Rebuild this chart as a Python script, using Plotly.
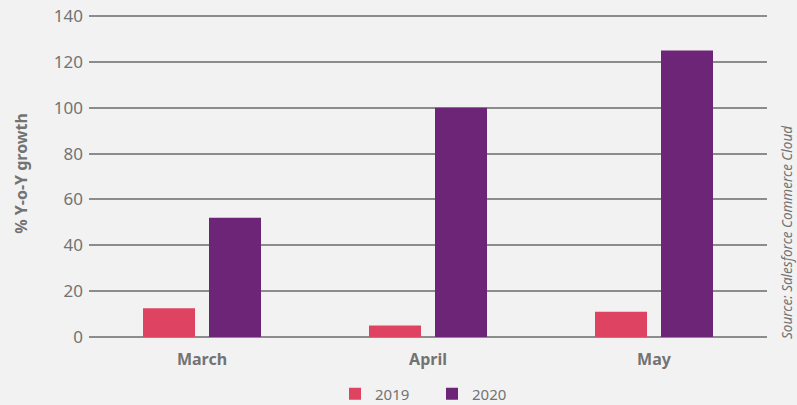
import plotly.graph_objects as go

months = ["March", "April", "May"]
growth_2019 = [12.5, 5, 11]
growth_2020 = [52, 100, 125]
y_ticks = [0, 20, 40, 60, 80, 100, 120, 140]

C2019 = "#de4461"
C2020 = "#6c2577"
TXT = "#737373"
GRID = "#8c8c8c"
FONT = "Noto Sans"

fig = go.Figure()
fig.add_trace(go.Bar(name="2019", x=months, y=growth_2019, marker_color=C2019, marker_line_width=0))
fig.add_trace(go.Bar(name="2020", x=months, y=growth_2020, marker_color=C2020, marker_line_width=0))

fig.update_layout(
    width=797, height=405, autosize=False,
    margin=dict(l=89, r=30, t=15, b=68, pad=0, autoexpand=False),
    paper_bgcolor="#f2f2f2", plot_bgcolor="#f2f2f2",
    barmode="group", bargap=0.416, bargroupgap=0.212,
    font=dict(family=FONT, color=TXT, size=15),
    showlegend=True,
    legend=dict(orientation="h", xref="container", yref="container",
                x=335 / 797, xanchor="left", y=1 - 394 / 405, yanchor="middle",
                font=dict(size=15, color=TXT), entrywidth=52, bgcolor="rgba(0,0,0,0)"),
    xaxis=dict(showgrid=False, showline=False, ticks="", automargin=False,
               tickfont=dict(size=16, color=TXT, family=FONT, weight="bold"),
               ticklabelstandoff=11),
    yaxis=dict(range=[0, 140.5], tickvals=y_ticks, showgrid=True, gridcolor=GRID, gridwidth=1.6,
               zeroline=True, zerolinecolor=GRID, zerolinewidth=1.6, showline=False,
               automargin=False,
               ticks="", tickfont=dict(size=17, color=TXT, family=FONT), ticklabelstandoff=5),
    annotations=[
        dict(text="<b>% Y-o-Y growth</b>", xref="paper", yref="paper", x=-0.1003, y=0.51,
             xanchor="center", yanchor="middle", textangle=-90, showarrow=False,
             font=dict(size=16, color=TXT, family=FONT)),
        dict(text="<i>Source: Salesforce Commerce Cloud</i>", xref="paper", yref="paper",
             x=1.0295, y=0.326, xanchor="center", yanchor="middle", textangle=-90,
             showarrow=False, font=dict(size=13.5, color=TXT, family=FONT)),
    ],
)

fig.write_html("out.html", config={"displayModeBar": False},
               post_script="document.body.style.margin='0';document.body.style.overflow='hidden';")
